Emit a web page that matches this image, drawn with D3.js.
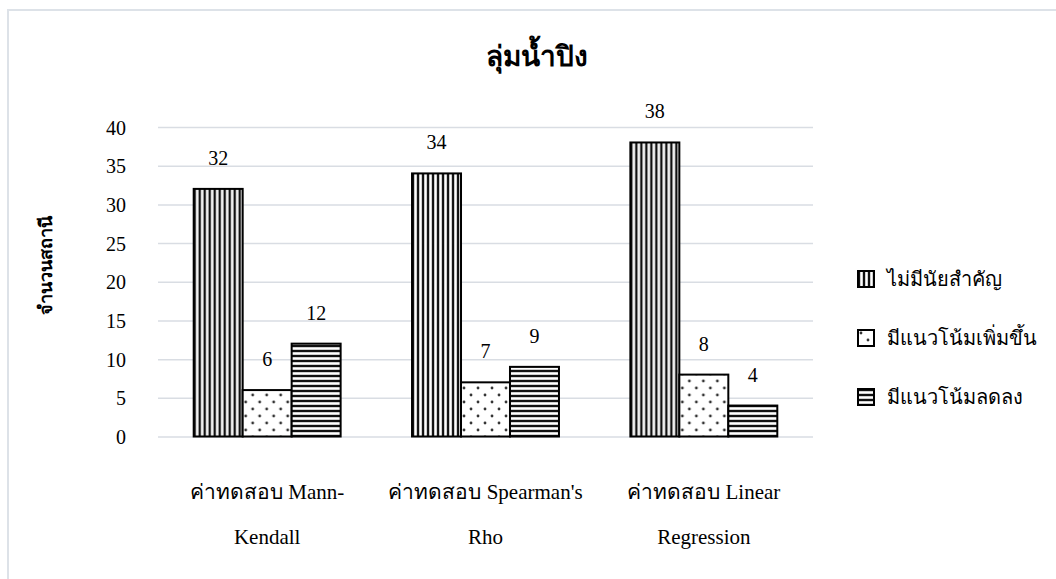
<!DOCTYPE html>
<html>
<head>
<meta charset="utf-8">
<script src="https://cdn.jsdelivr.net/npm/d3@7"></script>
<style>
  html, body { margin: 0; padding: 0; background: #fff; }
  svg { display: block; }
</style>
</head>
<body>
<svg id="chart" width="1056" height="579"></svg>
<script>
// Station counts per trend test (ลุ่มน้ำปิง)
const categories = [["ค่าทดสอบ Mann-", "Kendall"], ["ค่าทดสอบ Spearman's", "Rho"], ["ค่าทดสอบ Linear", "Regression"]];
const seriesNames = ["ไม่มีนัยสำคัญ", "มีแนวโน้มเพิ่มขึ้น", "มีแนวโน้มลดลง"];
const notSignificant = [32, 34, 38];
const increasing = [6, 7, 8];
const decreasing = [12, 9, 4];
const yTicks = [0, 5, 10, 15, 20, 25, 30, 35, 40];
const titleText = "ลุ่มน้ำปิง";
const yTitle = "จำนวนสถานี";

const FONT = "'Liberation Serif', 'Times New Roman', serif";
const seriesValues = [notSignificant, increasing, decreasing];
const patternIds = ["pat-vert", "pat-dots", "pat-horz"];

const svg = d3.select("#chart");
const defs = svg.append("defs");

// vertical stripes
const pv = defs.append("pattern").attr("id", "pat-vert").attr("patternUnits", "userSpaceOnUse")
  .attr("width", 5).attr("height", 5);
pv.append("rect").attr("width", 5).attr("height", 5).attr("fill", "#cfcfcf");
pv.append("rect").attr("x", 0).attr("width", 2).attr("height", 5).attr("fill", "#111");
pv.append("rect").attr("x", 3).attr("width", 1).attr("height", 5).attr("fill", "#fff");

// horizontal stripes
const ph = defs.append("pattern").attr("id", "pat-horz").attr("patternUnits", "userSpaceOnUse")
  .attr("width", 5).attr("height", 5);
ph.append("rect").attr("width", 5).attr("height", 5).attr("fill", "#cfcfcf");
ph.append("rect").attr("y", 0).attr("width", 5).attr("height", 2).attr("fill", "#111");
ph.append("rect").attr("y", 3).attr("width", 5).attr("height", 1).attr("fill", "#fff");

// sparse dots
const pd = defs.append("pattern").attr("id", "pat-dots").attr("patternUnits", "userSpaceOnUse")
  .attr("width", 14).attr("height", 14);
pd.append("rect").attr("width", 14).attr("height", 14).attr("fill", "#fff");
pd.append("circle").attr("cx", 3).attr("cy", 3).attr("r", 1.4).attr("fill", "#333");
pd.append("circle").attr("cx", 10).attr("cy", 10).attr("r", 1.4).attr("fill", "#333");

// chart frame (left and top edges visible)
svg.append("rect").attr("x", 8).attr("y", 10).attr("width", 1100).attr("height", 700)
  .attr("fill", "none").attr("stroke", "#dde2e8").attr("stroke-width", 2);

const plotLeft = 158, plotRight = 813;
const y = d3.scaleLinear().domain([0, 40]).range([436.5, 127]);
const x0 = d3.scaleBand().domain(d3.range(categories.length)).range([plotLeft, plotRight])
  .paddingInner(0.327).paddingOuter(0.1635);
const x1 = d3.scaleBand().domain(d3.range(seriesNames.length)).range([0, x0.bandwidth()]);

// gridlines and tick labels
const yAxis = d3.axisLeft(y).tickValues(yTicks).tickSize(-(plotRight - plotLeft)).tickFormat(d3.format("d"));
const gy = svg.append("g").attr("transform", `translate(${plotLeft},0)`).call(yAxis)
  .attr("font-family", null).attr("font-size", null);
gy.select(".domain").remove();
gy.selectAll(".tick line").attr("stroke", "#d9dde3").attr("stroke-width", 1.5);
gy.selectAll(".tick text").attr("x", -32).attr("dy", "0.35em")
  .style("font-family", FONT).style("font-size", "20px").attr("fill", "#000");

// bars
const groups = svg.append("g").selectAll("g").data(categories).join("g")
  .attr("transform", (d, i) => `translate(${x0(i)},0)`);

groups.selectAll("rect").data((d, i) => seriesValues.map((s, j) => ({ j, v: s[i] }))).join("rect")
  .attr("x", d => x1(d.j))
  .attr("y", d => y(d.v))
  .attr("width", x1.bandwidth())
  .attr("height", d => y(0) - y(d.v))
  .attr("fill", d => `url(#${patternIds[d.j]})`)
  .attr("stroke", "#000").attr("stroke-width", 2);

groups.selectAll("text.val").data((d, i) => seriesValues.map((s, j) => ({ j, v: s[i] }))).join("text")
  .attr("class", "val")
  .attr("x", d => x1(d.j) + x1.bandwidth() / 2)
  .attr("y", d => y(d.v) - 24)
  .attr("text-anchor", "middle")
  .style("font-family", FONT).style("font-size", "20px")
  .text(d => d.v);

// category labels (two lines)
categories.forEach((lines, i) => {
  const cx = x0(i) + x0.bandwidth() / 2;
  const t = svg.append("text").attr("x", cx).attr("text-anchor", "middle")
    .style("font-family", FONT).style("font-size", "21px");
  lines.forEach((ln, k) => {
    t.append("tspan").attr("x", cx).attr("y", 499 + k * 45).text(ln);
  });
});

// title
svg.append("text").attr("x", 537).attr("y", 66)
  .attr("text-anchor", "middle").style("font-family", FONT)
  .style("font-size", "28px").style("font-weight", "bold")
  .text(titleText);

// y-axis title
svg.append("text")
  .attr("transform", "translate(52,265) rotate(-90)")
  .attr("text-anchor", "middle").style("font-family", FONT)
  .style("font-size", "18px").style("font-weight", "bold")
  .text(yTitle);

// legend
const legend = svg.append("g").selectAll("g").data(seriesNames).join("g")
  .attr("transform", (d, i) => `translate(858,${271 + i * 59})`);
legend.append("rect").attr("width", 16).attr("height", 16)
  .attr("fill", (d, i) => `url(#${patternIds[i]})`).attr("stroke", "#000").attr("stroke-width", 2);
legend.append("text").attr("x", 29).attr("y", 15)
  .style("font-family", FONT).style("font-size", "20px").text(d => d);
</script>
</body>
</html>
